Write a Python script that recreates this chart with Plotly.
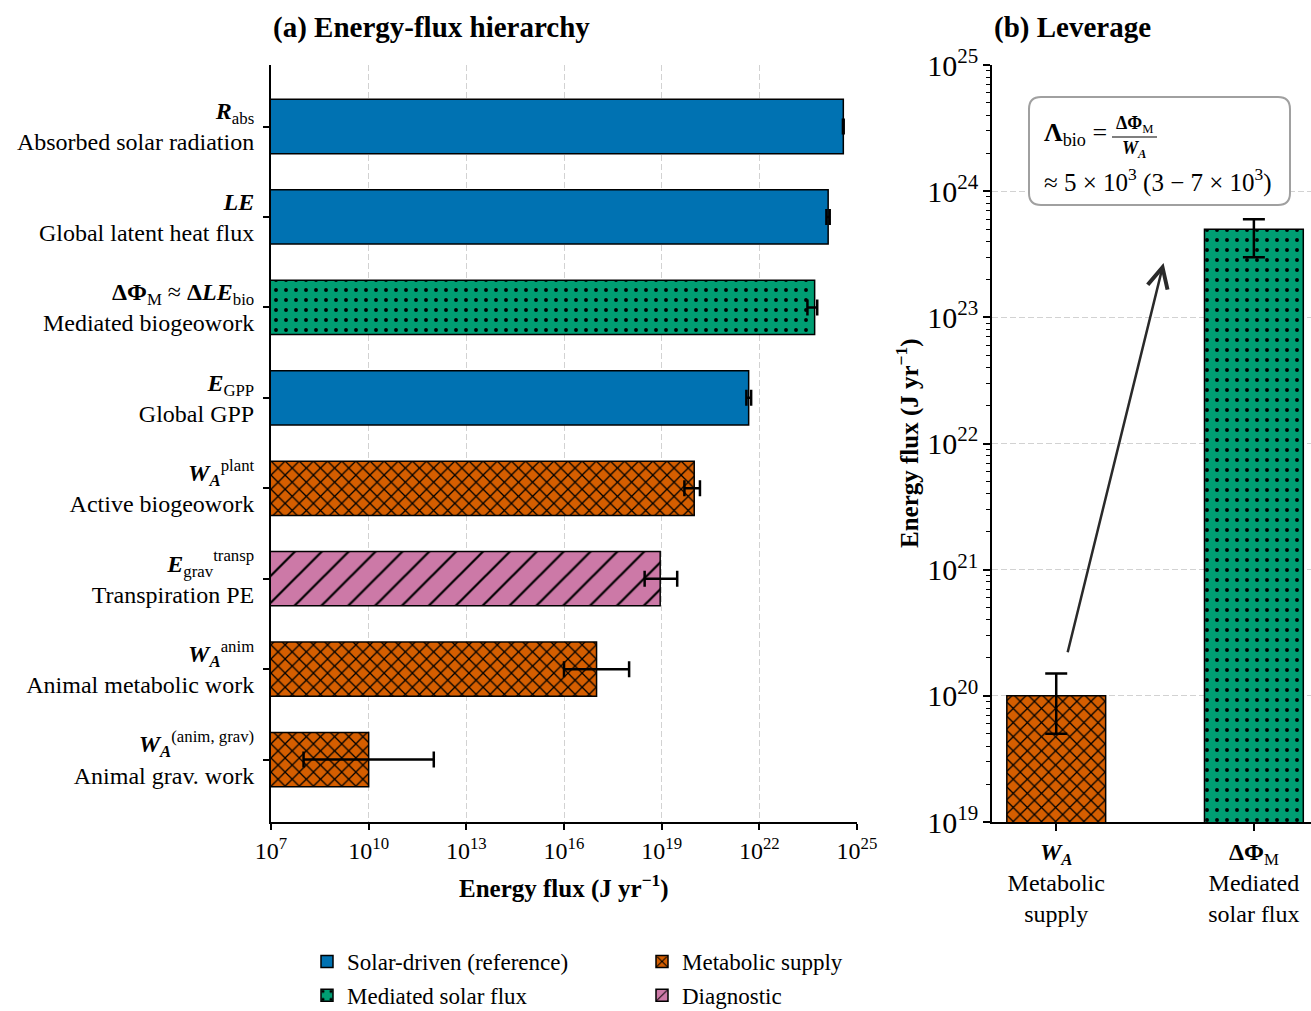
import plotly.graph_objects as go

W, H = 1311, 1011
FONT = "Liberation Serif"

# ---------------- data ----------------
flux_labels = [
    "<b><i>R</i></b><sub>abs</sub><br>Absorbed solar radiation",
    "<b><i>LE</i></b><br>Global latent heat flux",
    "<b>ΔΦ</b><sub>M</sub> ≈ <b>Δ<i>LE</i></b><sub>bio</sub><br>Mediated biogeowork",
    "<b><i>E</i></b><sub>GPP</sub><br>Global GPP",
    "<b><i>W</i></b><sub><b><i>A</i></b></sub><sup>plant</sup><br>Active biogeowork",
    "<b><i>E</i></b><sub>grav</sub><sup>transp</sup><br>Transpiration PE",
    "<b><i>W</i></b><sub><b><i>A</i></b></sub><sup>anim</sup><br>Animal metabolic work",
    "<b><i>W</i></b><sub><b><i>A</i></b></sub><sup>(anim, grav)</sup><br>Animal grav. work",
]
flux_values = [3.8e24, 1.3e24, 5.0e23, 4.7e21, 1.0e20, 9.0e18, 1.0e17, 1.0e10]
flux_low = [3.7e24, 1.15e24, 3.0e23, 4.0e21, 5.0e19, 3.0e18, 1.0e16, 1.0e8]
flux_high = [3.9e24, 1.45e24, 6.0e23, 5.6e21, 1.5e20, 3.0e19, 1.0e18, 1.0e12]
flux_groups = ["solar", "solar", "mediated", "solar", "metabolic", "diagnostic", "metabolic", "metabolic"]
flux_tick_exponents = [7, 10, 13, 16, 19, 22, 25]

lev_labels = [
    "<b><i>W</i></b><sub><b><i>A</i></b></sub><br>Metabolic<br>supply",
    "<b>ΔΦ</b><sub>M</sub><br>Mediated<br>solar flux",
]
lev_values = [1.0e20, 5.0e23]
lev_low = [5.0e19, 3.0e23]
lev_high = [1.5e20, 6.0e23]
lev_groups = ["metabolic", "mediated"]

group_order = ["solar", "metabolic", "mediated", "diagnostic"]
group_names = {
    "solar": "Solar-driven (reference)",
    "mediated": "Mediated solar flux",
    "metabolic": "Metabolic supply",
    "diagnostic": "Diagnostic",
}
group_legend = {"solar": "legend", "mediated": "legend", "metabolic": "legend2", "diagnostic": "legend2"}

# ---------------- styles ----------------
STYLE = {
    "solar": dict(color="#0072B2", shape="", size=8, solidity=0.2),
    "mediated": dict(color="#009E73", shape=".", size=10, solidity=0.12),
    "metabolic": dict(color="#D55E00", shape="x", size=10, solidity=0.24),
    "diagnostic": dict(color="#CC79A7", shape="/", size=19, solidity=0.12),
}


def marker_for(g):
    s = STYLE[g]
    m = dict(color=s["color"], line=dict(color="black", width=1.5))
    if s["shape"]:
        m["pattern"] = dict(shape=s["shape"], fgcolor="black", bgcolor=s["color"],
                            size=s["size"], solidity=s["solidity"], fillmode="replace")
    return m


def px_x(p):
    return p / W


def px_y(p):
    return 1 - p / H


fig = go.Figure()

# ---- panel (a) ----
for g in group_order:
    idx = [i for i, gg in enumerate(flux_groups) if gg == g]
    fig.add_trace(go.Bar(
        x=[flux_values[i] for i in idx],
        y=idx,
        orientation="h",
        width=0.6,
        name=group_names[g],
        legend=group_legend[g],
        legendgroup=g,
        marker=marker_for(g),
        error_x=dict(type="data", symmetric=False,
                     array=[flux_high[i] - flux_values[i] for i in idx],
                     arrayminus=[flux_values[i] - flux_low[i] for i in idx],
                     color="black", thickness=2.5, width=8),
        xaxis="x", yaxis="y",
        hoverinfo="skip",
    ))

# ---- panel (b) ----
for j, g in enumerate(lev_groups):
    fig.add_trace(go.Bar(
        x=[j], y=[lev_values[j]],
        width=0.5,
        showlegend=False,
        marker=marker_for(g),
        error_y=dict(type="data", symmetric=False,
                     array=[lev_high[j] - lev_values[j]],
                     arrayminus=[lev_values[j] - lev_low[j]],
                     color="black", thickness=2.5, width=11),
        xaxis="x2", yaxis="y2",
        hoverinfo="skip",
    ))

ydom = [px_y(822), px_y(65)]
tickfont = dict(family=FONT, size=24, color="black")
grid = dict(showgrid=True, gridcolor="#d2d2d2", gridwidth=1, griddash="6px,3px")

fig.update_layout(
    width=W, height=H,
    margin=dict(l=0, r=0, t=0, b=0, autoexpand=False),
    paper_bgcolor="white", plot_bgcolor="white",
    barmode="overlay",
    font=dict(family=FONT, size=24, color="black"),
    xaxis=dict(
        type="log", range=[7, 25], domain=[px_x(271), px_x(857)], anchor="y",
        tickvals=[10.0 ** e for e in flux_tick_exponents],
        ticktext=["10<sup>%d</sup>" % e for e in flux_tick_exponents],
        ticks="outside", ticklen=6, tickwidth=2, tickcolor="black",
        showline=True, linewidth=2, linecolor="black", zeroline=False,
        tickfont=tickfont, automargin=False, **grid,
    ),
    yaxis=dict(
        range=[7.69, -0.68], domain=ydom, anchor="x",
        tickvals=list(range(len(flux_labels))), ticktext=flux_labels,
        ticks="outside", ticklen=6, tickwidth=2, tickcolor="black",
        showline=True, linewidth=2, linecolor="black",
        showgrid=False, zeroline=False, tickfont=tickfont, ticklabelstandoff=4,
        automargin=False,
    ),
    xaxis2=dict(
        range=[-0.325, 1.289], domain=[px_x(992), 1.0], anchor="y2",
        tickvals=[0, 1], ticktext=lev_labels,
        ticks="outside", ticklen=7, tickwidth=2, tickcolor="black",
        showline=True, linewidth=2, linecolor="black",
        showgrid=False, zeroline=False, tickfont=tickfont, automargin=False,
    ),
    yaxis2=dict(
        type="log", range=[19, 25], domain=ydom, anchor="x2",
        dtick=1, exponentformat="power",
        ticks="outside", ticklen=7, tickwidth=2, tickcolor="black",
        minor=dict(ticks="outside", ticklen=4, tickwidth=1, tickcolor="black", dtick="D1", showgrid=False),
        showline=True, linewidth=2, linecolor="black", zeroline=False,
        tickfont=tickfont, automargin=False, **grid,
    ),
    legend=dict(x=px_x(307), y=px_y(940), xanchor="left", yanchor="top",
                font=dict(family=FONT, size=23, color="black"),
                bgcolor="rgba(0,0,0,0)", traceorder="grouped", tracegroupgap=1),
    legend2=dict(x=px_x(642), y=px_y(940), xanchor="left", yanchor="top",
                 font=dict(family=FONT, size=23, color="black"),
                 bgcolor="rgba(0,0,0,0)", traceorder="grouped", tracegroupgap=1),
)

ann = []
# titles
ann.append(dict(text="<b>(a) Energy-flux hierarchy</b>", x=px_x(271), y=px_y(27), xref="paper", yref="paper",
                xanchor="left", yanchor="middle", showarrow=False, font=dict(size=29)))
ann.append(dict(text="<b>(b) Leverage</b>", x=px_x(992), y=px_y(27), xref="paper", yref="paper",
                xanchor="left", yanchor="middle", showarrow=False, font=dict(size=29)))
# axis titles
ann.append(dict(text="<b>Energy flux (J yr<sup>−1</sup>)</b>", x=px_x(564), y=px_y(886), xref="paper", yref="paper",
                xanchor="center", yanchor="middle", showarrow=False, font=dict(size=25)))
ann.append(dict(text="<b>Energy flux (J yr<sup>−1</sup>)</b>", x=px_x(907), y=px_y(443), xref="paper", yref="paper",
                xanchor="center", yanchor="middle", showarrow=False, textangle=-90, font=dict(size=25)))
# leverage box text
ann.append(dict(text="<b>Λ</b><sub>bio</sub> =", x=px_x(1042), y=px_y(134), xref="paper", yref="paper",
                xanchor="left", yanchor="middle", showarrow=False, font=dict(size=26)))
ann.append(dict(text="<b>ΔΦ</b><sub>M</sub>", x=px_x(1134), y=px_y(125), xref="paper", yref="paper",
                xanchor="center", yanchor="middle", showarrow=False, font=dict(size=18)))
ann.append(dict(text="<b><i>W</i></b><sub><b><i>A</i></b></sub>", x=px_x(1134), y=px_y(149), xref="paper", yref="paper",
                xanchor="center", yanchor="middle", showarrow=False, font=dict(size=18)))
ann.append(dict(text="≈ 5 × 10<sup>3</sup> (3 − 7 × 10<sup>3</sup>)", x=px_x(1042), y=px_y(180), xref="paper", yref="paper",
                xanchor="left", yanchor="middle", showarrow=False, font=dict(size=25)))
# arrow in panel (b)
ann.append(dict(text="", x=0.543, y=23.43, xref="x2", yref="y2",
                ax=0.056, ay=20.334, axref="x2", ayref="y2",
                showarrow=True, arrowhead=5, arrowsize=1.6, arrowwidth=2.5, arrowcolor="#2a2a2a"))
fig.update_layout(annotations=ann)

# rounded box
x0, x1, y0, y1, r = 1029, 1290, 97, 205, 12


def P(x, y):
    return "%.5f,%.5f" % (px_x(x), px_y(y))


path = ("M" + P(x0 + r, y0) + " L" + P(x1 - r, y0) + " Q" + P(x1, y0) + " " + P(x1, y0 + r) +
        " L" + P(x1, y1 - r) + " Q" + P(x1, y1) + " " + P(x1 - r, y1) +
        " L" + P(x0 + r, y1) + " Q" + P(x0, y1) + " " + P(x0, y1 - r) +
        " L" + P(x0, y0 + r) + " Q" + P(x0, y0) + " " + P(x0 + r, y0) + " Z")
fig.add_shape(type="path", path=path, xref="paper", yref="paper",
              line=dict(color="#a0a0a0", width=2), fillcolor="white", layer="above")
fig.add_shape(type="line", x0=px_x(1112), x1=px_x(1157), y0=px_y(137), y1=px_y(137),
              xref="paper", yref="paper", line=dict(color="black", width=1.2))

fig.write_html(
    "out.html",
    config={"displayModeBar": False},
    post_script=("document.body.style.margin='0px';"
                 "document.body.style.overflow='hidden';"
                 "document.documentElement.style.overflow='hidden';"),
)
